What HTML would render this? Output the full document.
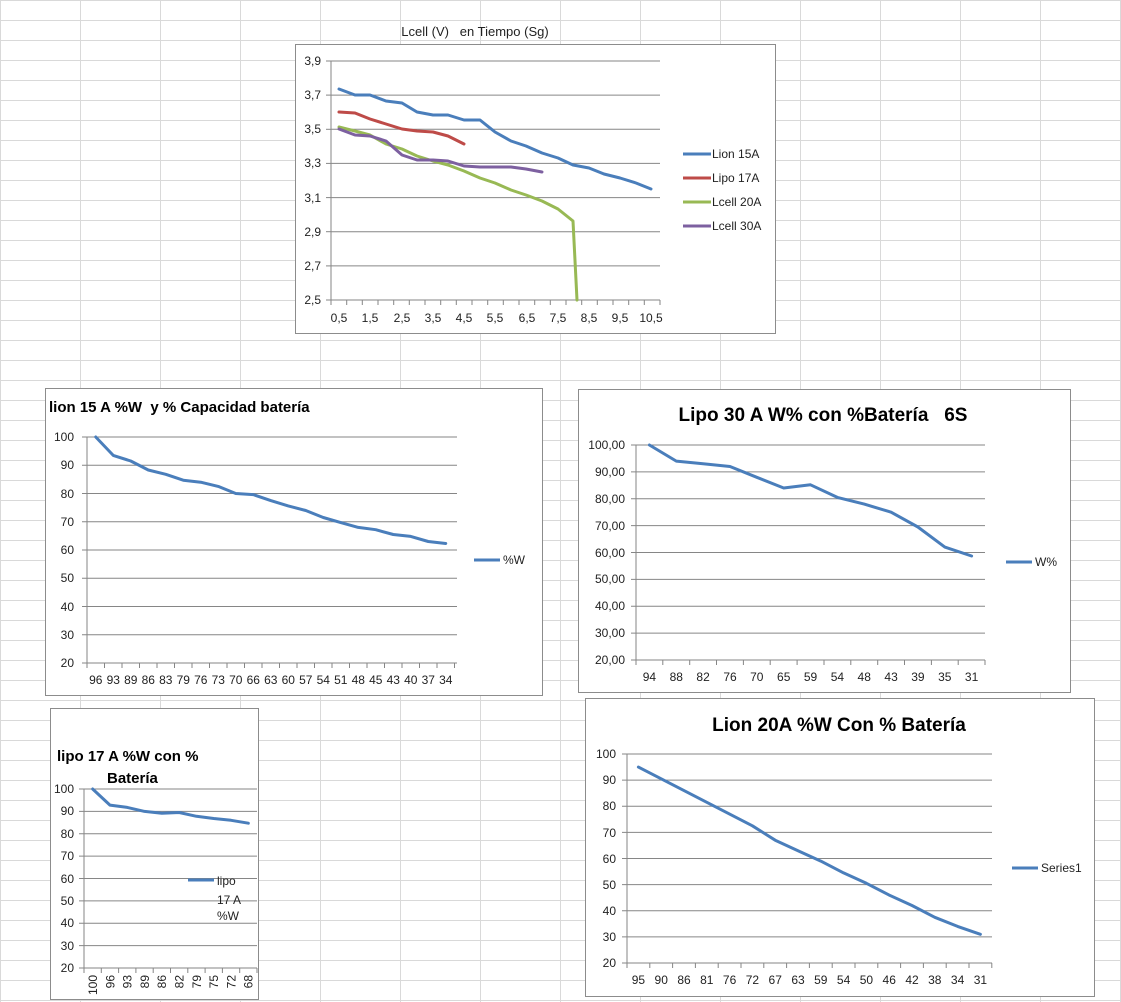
<!DOCTYPE html>
<html><head><meta charset="utf-8"><style>
html,body{margin:0;padding:0;background:#fff;}
svg{display:block;font-family:"Liberation Sans",sans-serif;}
svg text{white-space:pre;}
.ax{font-size:12px;fill:#222;}
.g{stroke:#868686;stroke-width:1;}
.b{fill:#fff;stroke:#8c8c8c;stroke-width:1;}
.s{fill:none;stroke-width:3;stroke-linejoin:round;stroke-linecap:round;}
.t{font-weight:bold;fill:#000;}
</style></head><body>
<svg width="1121" height="1002" viewBox="0 0 1121 1002" xmlns="http://www.w3.org/2000/svg" xml:space="preserve">
<defs>
<pattern id="cells" width="80" height="20" patternUnits="userSpaceOnUse">
<path d="M0.5 0 V20 M0 0.5 H80" stroke="#d9d9d9" stroke-width="1" fill="none"/>
</pattern>
</defs>
<rect width="1121" height="1002" fill="url(#cells)"/>

<!-- Chart 1 -->
<text x="475" y="36" text-anchor="middle" class="ax" style="font-size:13px">Lcell (V)   en Tiempo (Sg)</text>
<rect x="295.5" y="44.5" width="480" height="289" class="b"/>
<g class="g">
<line x1="331" y1="61" x2="660" y2="61"/><line x1="331" y1="95.1" x2="660" y2="95.1"/><line x1="331" y1="129.3" x2="660" y2="129.3"/><line x1="331" y1="163.4" x2="660" y2="163.4"/><line x1="331" y1="197.6" x2="660" y2="197.6"/><line x1="331" y1="231.7" x2="660" y2="231.7"/><line x1="331" y1="265.9" x2="660" y2="265.9"/><line x1="331" y1="300" x2="660" y2="300"/>
<line x1="331" y1="61" x2="331" y2="300"/><line x1="326" y1="61" x2="331" y2="61"/><line x1="326" y1="95.1" x2="331" y2="95.1"/><line x1="326" y1="129.3" x2="331" y2="129.3"/><line x1="326" y1="163.4" x2="331" y2="163.4"/><line x1="326" y1="197.6" x2="331" y2="197.6"/><line x1="326" y1="231.7" x2="331" y2="231.7"/><line x1="326" y1="265.9" x2="331" y2="265.9"/><line x1="326" y1="300" x2="331" y2="300"/>
</g>
<path d="M331 300v5M346.7 300v5M362.3 300v5M378 300v5M393.7 300v5M409.3 300v5M425 300v5M440.7 300v5M456.3 300v5M472 300v5M487.7 300v5M503.3 300v5M519 300v5M534.7 300v5M550.3 300v5M566 300v5M581.7 300v5M597.3 300v5M613 300v5M628.7 300v5M644.3 300v5M660 300v5" stroke="#868686"/>
<g class="ax" text-anchor="end">
<text x="321" y="65">3,9</text><text x="321" y="99">3,7</text><text x="321" y="133">3,5</text><text x="321" y="167">3,3</text><text x="321" y="202">3,1</text><text x="321" y="236">2,9</text><text x="321" y="270">2,7</text><text x="321" y="304">2,5</text>
</g>
<g class="ax" text-anchor="middle">
<text x="339" y="322">0,5</text><text x="370" y="322">1,5</text><text x="402" y="322">2,5</text><text x="433" y="322">3,5</text><text x="464" y="322">4,5</text><text x="495" y="322">5,5</text><text x="527" y="322">6,5</text><text x="558" y="322">7,5</text><text x="589" y="322">8,5</text><text x="620" y="322">9,5</text><text x="651" y="322">10,5</text>
</g>
<polyline class="s" stroke="#4a7ebb" points="339,89 355,95 370,95 386,101 402,103 417,112 433,115 448,115 464,120 480,120 495,132 511,141 526,146 542,153 558,158 573,165 589,168 604,174 620,178 636,183 651,189"/>
<polyline class="s" stroke="#be4b48" points="339,112 355,113 370,119 386,124 402,129 417,131 433,132 448,136 464,144"/>
<polyline class="s" stroke="#98b954" points="339,127 355,131 370,135 386,144 402,149 417,156 433,161 448,165 464,171 480,178 495,183 511,190 526,195 542,201 558,209 573,221 577,300"/>
<polyline class="s" stroke="#7d60a0" points="339,129 355,135 370,136 386,141 402,155 417,160 433,160 448,161 464,166 480,167 495,167 511,167 526,169 542,172"/>
<g class="ax" style="font-size:12px">
<line x1="683" y1="154" x2="711" y2="154" stroke="#4a7ebb" stroke-width="3"/><text x="712" y="158">Lion 15A</text>
<line x1="683" y1="178" x2="711" y2="178" stroke="#be4b48" stroke-width="3"/><text x="712" y="182">Lipo 17A</text>
<line x1="683" y1="202" x2="711" y2="202" stroke="#98b954" stroke-width="3"/><text x="712" y="206">Lcell 20A</text>
<line x1="683" y1="226" x2="711" y2="226" stroke="#7d60a0" stroke-width="3"/><text x="712" y="230">Lcell 30A</text>
</g>

<!-- Chart 2 -->
<rect x="45.5" y="388.5" width="497" height="307" class="b"/>
<text x="49" y="412" class="t" style="font-size:15px">lion 15 A %W  y % Capacidad batería</text>
<g class="g">
<line x1="87" y1="437" x2="457" y2="437"/><line x1="87" y1="465.2" x2="457" y2="465.2"/><line x1="87" y1="493.5" x2="457" y2="493.5"/><line x1="87" y1="521.7" x2="457" y2="521.7"/><line x1="87" y1="550" x2="457" y2="550"/><line x1="87" y1="578.2" x2="457" y2="578.2"/><line x1="87" y1="606.5" x2="457" y2="606.5"/><line x1="87" y1="634.7" x2="457" y2="634.7"/><line x1="87" y1="663" x2="457" y2="663"/>
<line x1="87" y1="437" x2="87" y2="663"/>
</g>
<path d="M87 663v5M104.5 663v5M122 663v5M139.5 663v5M157 663v5M174.5 663v5M192 663v5M209.5 663v5M227 663v5M244.5 663v5M262 663v5M279.5 663v5M297 663v5M314.5 663v5M332 663v5M349.5 663v5M367 663v5M384.5 663v5M402 663v5M419.5 663v5M437 663v5M454.5 663v5M82 437h5M82 465.2h5M82 493.5h5M82 521.7h5M82 550h5M82 578.2h5M82 606.5h5M82 634.7h5M82 663h5" stroke="#868686"/>
<g class="ax" text-anchor="end">
<text x="74" y="441">100</text><text x="74" y="469">90</text><text x="74" y="498">80</text><text x="74" y="526">70</text><text x="74" y="554">60</text><text x="74" y="582">50</text><text x="74" y="611">40</text><text x="74" y="639">30</text><text x="74" y="667">20</text>
</g>
<g class="ax" text-anchor="middle">
<text x="95.75" y="684">96</text><text x="113.25" y="684">93</text><text x="130.75" y="684">89</text><text x="148.25" y="684">86</text><text x="165.75" y="684">83</text><text x="183.25" y="684">79</text><text x="200.75" y="684">76</text><text x="218.25" y="684">73</text><text x="235.75" y="684">70</text><text x="253.25" y="684">66</text><text x="270.75" y="684">63</text><text x="288.25" y="684">60</text><text x="305.75" y="684">57</text><text x="323.25" y="684">54</text><text x="340.75" y="684">51</text><text x="358.25" y="684">48</text><text x="375.75" y="684">45</text><text x="393.25" y="684">43</text><text x="410.75" y="684">40</text><text x="428.25" y="684">37</text><text x="445.75" y="684">34</text>
</g>
<polyline class="s" stroke="#4a7ebb" points="95.75,437 113.25,455.4 130.75,461 148.25,470 165.75,474.3 183.25,480.2 200.75,482.2 218.25,486.4 235.75,493.5 253.25,494.6 270.75,500.6 288.25,505.9 305.75,510.5 323.25,517.5 340.75,522.6 358.25,527.4 375.75,529.7 393.25,534.5 410.75,536.4 428.25,541.5 445.75,543.5"/>
<line x1="474" y1="560" x2="500" y2="560" stroke="#4a7ebb" stroke-width="3"/><text x="503" y="564" class="ax" style="font-size:12px">%W</text>

<!-- Chart 3 -->
<rect x="578.5" y="389.5" width="492" height="303" class="b"/>
<text x="823" y="421" text-anchor="middle" class="t" style="font-size:19px">Lipo 30 A W% con %Batería   6S</text>
<g class="g">
<line x1="636" y1="445" x2="985" y2="445"/><line x1="636" y1="471.9" x2="985" y2="471.9"/><line x1="636" y1="498.8" x2="985" y2="498.8"/><line x1="636" y1="525.6" x2="985" y2="525.6"/><line x1="636" y1="552.5" x2="985" y2="552.5"/><line x1="636" y1="579.4" x2="985" y2="579.4"/><line x1="636" y1="606.3" x2="985" y2="606.3"/><line x1="636" y1="633.1" x2="985" y2="633.1"/><line x1="636" y1="660" x2="985" y2="660"/>
<line x1="636" y1="445" x2="636" y2="660"/>
</g>
<path d="M636 660v5M662.8 660v5M689.7 660v5M716.5 660v5M743.4 660v5M770.2 660v5M797.1 660v5M824 660v5M850.8 660v5M877.7 660v5M904.5 660v5M931.4 660v5M958.2 660v5M985 660v5M631 445h5M631 471.9h5M631 498.8h5M631 525.6h5M631 552.5h5M631 579.4h5M631 606.3h5M631 633.1h5M631 660h5" stroke="#868686"/>
<g class="ax" text-anchor="end">
<text x="625" y="449">100,00</text><text x="625" y="476">90,00</text><text x="625" y="503">80,00</text><text x="625" y="530">70,00</text><text x="625" y="557">60,00</text><text x="625" y="583">50,00</text><text x="625" y="610">40,00</text><text x="625" y="637">30,00</text><text x="625" y="664">20,00</text>
</g>
<g class="ax" text-anchor="middle">
<text x="649.4" y="681">94</text><text x="676.3" y="681">88</text><text x="703.1" y="681">82</text><text x="730" y="681">76</text><text x="756.8" y="681">70</text><text x="783.7" y="681">65</text><text x="810.5" y="681">59</text><text x="837.4" y="681">54</text><text x="864.2" y="681">48</text><text x="891.1" y="681">43</text><text x="917.9" y="681">39</text><text x="944.8" y="681">35</text><text x="971.6" y="681">31</text>
</g>
<polyline class="s" stroke="#4a7ebb" points="649.4,445 676.3,461.1 703.1,463.8 730,466.5 756.8,477.3 783.7,488 810.5,484.8 837.4,497.4 864.2,504.1 891.1,512.2 917.9,527 944.8,547.1 971.6,556"/>
<line x1="1006" y1="562" x2="1032" y2="562" stroke="#4a7ebb" stroke-width="3"/><text x="1035" y="566" class="ax" style="font-size:12px">W%</text>

<!-- Chart 4 -->
<rect x="585.5" y="698.5" width="509" height="298" class="b"/>
<text x="839" y="731" text-anchor="middle" class="t" style="font-size:19px">Lion 20A %W Con % Batería</text>
<g class="g">
<line x1="627" y1="754" x2="992" y2="754"/><line x1="627" y1="780.1" x2="992" y2="780.1"/><line x1="627" y1="806.3" x2="992" y2="806.3"/><line x1="627" y1="832.4" x2="992" y2="832.4"/><line x1="627" y1="858.5" x2="992" y2="858.5"/><line x1="627" y1="884.6" x2="992" y2="884.6"/><line x1="627" y1="910.8" x2="992" y2="910.8"/><line x1="627" y1="936.9" x2="992" y2="936.9"/><line x1="627" y1="963" x2="992" y2="963"/>
<line x1="627" y1="754" x2="627" y2="963"/>
</g>
<path d="M627 963v5M649.8 963v5M672.6 963v5M695.4 963v5M718.2 963v5M741 963v5M763.8 963v5M786.6 963v5M809.4 963v5M832.2 963v5M855 963v5M877.8 963v5M900.6 963v5M923.4 963v5M946.2 963v5M969 963v5M991.8 963v5M622 754h5M622 780.1h5M622 806.3h5M622 832.4h5M622 858.5h5M622 884.6h5M622 910.8h5M622 936.9h5M622 963h5" stroke="#868686"/>
<g class="ax" text-anchor="end">
<text x="616" y="758">100</text><text x="616" y="784">90</text><text x="616" y="810">80</text><text x="616" y="837">70</text><text x="616" y="863">60</text><text x="616" y="889">50</text><text x="616" y="915">40</text><text x="616" y="941">30</text><text x="616" y="967">20</text>
</g>
<g class="ax" text-anchor="middle">
<text x="638.4" y="984">95</text><text x="661.2" y="984">90</text><text x="684" y="984">86</text><text x="706.8" y="984">81</text><text x="729.6" y="984">76</text><text x="752.4" y="984">72</text><text x="775.2" y="984">67</text><text x="798" y="984">63</text><text x="820.8" y="984">59</text><text x="843.6" y="984">54</text><text x="866.4" y="984">50</text><text x="889.2" y="984">46</text><text x="912" y="984">42</text><text x="934.8" y="984">38</text><text x="957.6" y="984">34</text><text x="980.4" y="984">31</text>
</g>
<polyline class="s" stroke="#4a7ebb" points="638.4,767.1 661.2,778.8 684,790.6 706.8,802.3 729.6,814.1 752.4,825.8 775.2,840.2 798,850.7 820.8,861.1 843.6,872.9 866.4,883.3 889.2,895.1 912,905.5 934.8,917.3 957.6,926.4 980.4,934.3"/>
<line x1="1012" y1="868" x2="1038" y2="868" stroke="#4a7ebb" stroke-width="3"/><text x="1041" y="872" class="ax" style="font-size:12px">Series1</text>

<!-- Chart 5 -->
<rect x="50.5" y="708.5" width="208" height="291" class="b"/>
<text x="57" y="761" class="t" style="font-size:15px">lipo 17 A %W con %</text>
<text x="107" y="783" class="t" style="font-size:15px">Batería</text>
<g class="g">
<line x1="84" y1="789" x2="257" y2="789"/><line x1="84" y1="811.4" x2="257" y2="811.4"/><line x1="84" y1="833.8" x2="257" y2="833.8"/><line x1="84" y1="856.1" x2="257" y2="856.1"/><line x1="84" y1="878.5" x2="257" y2="878.5"/><line x1="84" y1="900.9" x2="257" y2="900.9"/><line x1="84" y1="923.3" x2="257" y2="923.3"/><line x1="84" y1="945.6" x2="257" y2="945.6"/><line x1="84" y1="968" x2="257" y2="968"/>
<line x1="84" y1="789" x2="84" y2="968"/>
</g>
<path d="M84 968v5M101.3 968v5M118.6 968v5M135.9 968v5M153.2 968v5M170.5 968v5M187.8 968v5M205.1 968v5M222.4 968v5M239.7 968v5M257 968v5M79 789h5M79 811.4h5M79 833.8h5M79 856.1h5M79 878.5h5M79 900.9h5M79 923.3h5M79 945.6h5M79 968h5" stroke="#868686"/>
<g class="ax" text-anchor="end">
<text x="74" y="793">100</text><text x="74" y="815">90</text><text x="74" y="838">80</text><text x="74" y="860">70</text><text x="74" y="883">60</text><text x="74" y="905">50</text><text x="74" y="927">40</text><text x="74" y="950">30</text><text x="74" y="972">20</text>
</g>
<g class="ax" text-anchor="end">
<text transform="translate(97,975) rotate(-90)">100</text><text transform="translate(114.3,975) rotate(-90)">96</text><text transform="translate(131.6,975) rotate(-90)">93</text><text transform="translate(148.9,975) rotate(-90)">89</text><text transform="translate(166.2,975) rotate(-90)">86</text><text transform="translate(183.5,975) rotate(-90)">82</text><text transform="translate(200.8,975) rotate(-90)">79</text><text transform="translate(218.1,975) rotate(-90)">75</text><text transform="translate(235.4,975) rotate(-90)">72</text><text transform="translate(252.7,975) rotate(-90)">68</text>
</g>
<polyline class="s" stroke="#4a7ebb" points="92.65,789 109.95,805.1 127.25,807.4 144.55,811.4 161.85,813.2 179.15,812.5 196.45,816.3 213.75,818.5 231.05,820.3 248.35,823.2"/>
<line x1="188" y1="880" x2="214" y2="880" stroke="#4a7ebb" stroke-width="3"/>
<g class="ax" style="font-size:12px"><text x="217" y="885">lipo</text><text x="217" y="904">17 A</text><text x="217" y="920">%W</text></g>
</svg>
</body></html>
